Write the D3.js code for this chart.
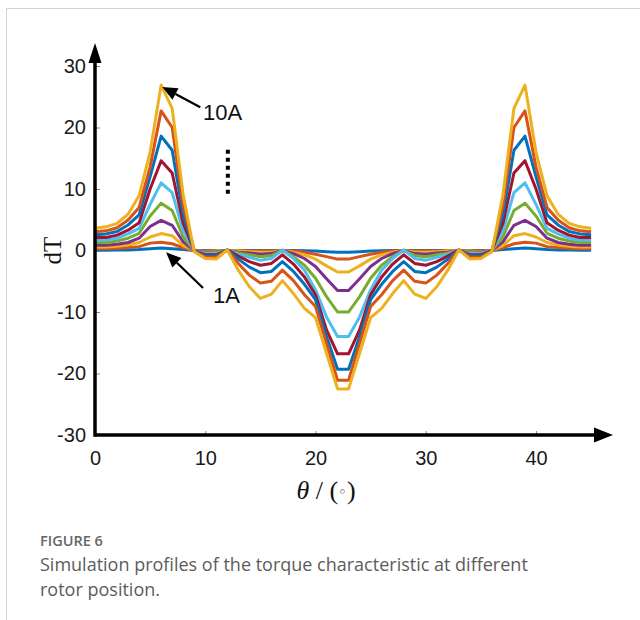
<!DOCTYPE html>
<html>
<head>
<meta charset="utf-8">
<script src="https://cdn.jsdelivr.net/npm/d3@7"></script>
<style>
  html, body { margin: 0; padding: 0; background: #fff; }
  svg { display: block; }
</style>
</head>
<body>
<svg id="chart" width="640" height="620"></svg>
<script>
// Rotor position (degrees)
const angles = [0, 1, 2, 3, 4, 5, 6, 7, 8, 9, 10, 11, 12, 13, 14, 15, 16, 17, 18, 19, 20, 21, 22,
                23, 24, 25, 26, 27, 28, 29, 30, 31, 32, 33, 34, 35, 36, 37, 38, 39, 40, 41, 42, 43, 44, 45];

// Torque difference dT per phase current, 1A .. 10A
const dT1A  = [0.05, 0.05, 0.07, 0.1, 0.15, 0.3, 0.4, 0.3, 0.15, 0, 0, 0, 0, 0, 0, 0, 0, 0, 0, -0.05, -0.1, -0.2, -0.3,
               -0.3, -0.2, -0.1, -0.05, 0, 0, 0, 0, 0, 0, 0, 0, 0, 0, 0.15, 0.3, 0.4, 0.3, 0.15, 0.1, 0.07, 0.05, 0.05];
const dT2A  = [0.28, 0.28, 0.36, 0.47, 0.63, 1.2, 1.35, 1.1, 0.45, 0, -0.1, -0.05, 0, 0, -0.1, -0.1, -0.1, 0, -0.1, -0.3, -0.6, -1.0, -1.4,
               -1.4, -1.0, -0.6, -0.3, -0.1, 0, -0.1, -0.1, -0.1, 0, 0, -0.05, -0.1, 0, 0.45, 1.1, 1.35, 1.2, 0.63, 0.47, 0.36, 0.28, 0.28];
const dT3A  = [0.55, 0.57, 0.7, 0.9, 1.3, 2.2, 2.75, 2.4, 0.8, 0, -0.2, -0.1, 0, -0.1, -0.2, -0.3, -0.3, 0, -0.3, -0.7, -1.4, -2.5, -3.5,
               -3.5, -2.5, -1.4, -0.7, -0.3, 0, -0.3, -0.3, -0.2, -0.1, 0, -0.1, -0.2, 0, 0.8, 2.4, 2.75, 2.2, 1.3, 0.9, 0.7, 0.57, 0.55];
const dT4A  = [0.85, 0.85, 1.0, 1.3, 2.0, 3.9, 4.9, 4.1, 1.4, 0, -0.3, -0.2, 0, -0.3, -0.4, -0.6, -0.5, 0, -0.5, -1.3, -2.6, -4.6, -6.5,
               -6.5, -4.6, -2.6, -1.3, -0.5, 0, -0.5, -0.6, -0.4, -0.3, 0, -0.2, -0.3, 0, 1.4, 4.1, 4.9, 3.9, 2.0, 1.3, 1.0, 0.85, 0.85];
const dT5A  = [1.3, 1.3, 1.55, 2.0, 2.8, 5.6, 7.7, 6.5, 2.2, 0, -0.4, -0.3, 0, -0.4, -0.7, -1.0, -0.8, 0, -1.0, -2.4, -4.5, -7.5, -10.0,
               -10.0, -7.5, -4.5, -2.4, -1.0, 0, -0.8, -1.0, -0.7, -0.4, 0, -0.3, -0.4, 0, 2.2, 6.5, 7.7, 5.6, 2.8, 2.0, 1.55, 1.3, 1.3];
const dT6A  = [1.7, 1.7, 2.0, 2.7, 3.6, 7.5, 11.0, 9.4, 3.2, 0, -0.5, -0.5, 0.05, -0.6, -1.1, -1.6, -1.3, 0.1, -1.3, -3.2, -6.4, -10.8, -14.0,
               -14.0, -10.8, -6.4, -3.2, -1.3, 0.1, -1.3, -1.6, -1.1, -0.6, 0.05, -0.5, -0.5, 0, 3.2, 9.4, 11.0, 7.5, 3.6, 2.7, 2.0, 1.7, 1.7];
const dT7A  = [2.1, 2.1, 2.5, 3.3, 4.5, 10.0, 14.6, 12.6, 4.4, 0, -0.7, -0.7, 0.1, -0.9, -1.8, -2.4, -2.1, -0.7, -2.2, -4.3, -7.2, -12.9, -16.8,
               -16.8, -12.9, -7.2, -4.3, -2.2, -0.7, -2.1, -2.4, -1.8, -0.9, 0.1, -0.7, -0.7, 0, 4.4, 12.6, 14.6, 10.0, 4.5, 3.3, 2.5, 2.1, 2.1];
const dT8A  = [2.55, 2.7, 3.1, 4.15, 5.8, 12.0, 18.6, 16.3, 5.8, 0, -0.9, -0.9, 0.1, -1.4, -2.7, -3.6, -3.4, -1.8, -3.4, -5.5, -8.0, -14.0, -19.3,
               -19.3, -14.0, -8.0, -5.5, -3.4, -1.8, -3.4, -3.6, -2.7, -1.4, 0.1, -0.9, -0.9, 0, 5.8, 16.3, 18.6, 12.0, 5.8, 4.15, 3.1, 2.7, 2.55];
const dT9A  = [3.05, 3.2, 3.7, 4.95, 7.0, 13.6, 22.7, 20.0, 7.3, -0.1, -1.1, -1.1, 0.1, -2.1, -4.0, -5.3, -5.0, -3.2, -4.9, -7.2, -9.1, -15.1, -21.1,
               -21.1, -15.1, -9.1, -7.2, -4.9, -3.2, -5.0, -5.3, -4.0, -2.1, 0.1, -1.1, -1.1, -0.1, 7.3, 20.0, 22.7, 13.6, 7.0, 4.95, 3.7, 3.2, 3.05];
const dT10A = [3.6, 3.85, 4.4, 5.9, 8.9, 16.0, 26.9, 23.1, 9.0, -0.2, -1.3, -1.4, 0.1, -3.2, -5.9, -7.8, -7.1, -4.9, -7.0, -9.4, -10.9, -16.7, -22.5,
               -22.5, -16.7, -10.9, -9.4, -7.0, -4.9, -7.1, -7.8, -5.9, -3.2, 0.1, -1.4, -1.3, -0.2, 9.0, 23.1, 26.9, 16.0, 8.9, 5.9, 4.4, 3.85, 3.6];

const seriesNames = ["1A", "2A", "3A", "4A", "5A", "6A", "7A", "8A", "9A", "10A"];
const seriesValues = [dT1A, dT2A, dT3A, dT4A, dT5A, dT6A, dT7A, dT8A, dT9A, dT10A];
const seriesColors = ["#0072BD", "#D95319", "#EDB120", "#7E2F8E", "#77AC30",
                      "#4DBEEE", "#A2142F", "#0072BD", "#D95319", "#EDB120"];

const xTicks = [0, 10, 20, 30, 40];
const yTicks = [-30, -20, -10, 0, 10, 20, 30];

const captionLabel = "FIGURE 6";
const captionLines = ["Simulation profiles of the torque characteristic at different",
                      "rotor position."];

const svg = d3.select("#chart");

// page frame
svg.append("path")
  .attr("d", "M6.5,620 V8.5 H640")
  .attr("fill", "none")
  .attr("stroke", "#d3d3d3")
  .attr("stroke-width", 1);

const x = d3.scaleLinear().domain([0, 40]).range([95, 536]);
const y = d3.scaleLinear().domain([-30, 30]).range([435, 66]);

const axisFont = "'Liberation Sans', Arial, sans-serif";
const plainNumber = d => String(d);   // hyphen-minus, as in the printed figure

// x axis ticks and labels
const gx = svg.append("g")
  .attr("transform", `translate(0,${y(-30)})`)
  .call(d3.axisBottom(x).tickValues(xTicks).tickFormat(plainNumber).tickSize(-4).tickPadding(16));
gx.select(".domain").remove();
gx.selectAll(".tick line").attr("stroke", "#888");
gx.selectAll(".tick text")
  .attr("font-family", axisFont).attr("font-size", 20).attr("fill", "#1a1a1a");

// y axis ticks and labels
const gy = svg.append("g")
  .attr("transform", `translate(${x(0)},0)`)
  .call(d3.axisLeft(y).tickValues(yTicks).tickFormat(plainNumber).tickSize(-5).tickPadding(9));
gy.select(".domain").remove();
gy.selectAll(".tick line").attr("stroke", "#888");
gy.selectAll(".tick text")
  .attr("font-family", axisFont).attr("font-size", 20).attr("fill", "#1a1a1a");

// torque curves
const line = d3.line()
  .x((d, i) => x(angles[i]))
  .y(d => y(d));

svg.append("g")
  .selectAll("path")
  .data(seriesValues)
  .join("path")
  .attr("d", d => line(d))
  .attr("fill", "none")
  .attr("stroke", (d, i) => seriesColors[i])
  .attr("stroke-width", 3)
  .attr("stroke-linejoin", "round");

// heavy axis lines with arrow heads
const ax0 = x(0), ay0 = y(-30);
const xEnd = x(40) + 77, yEnd = y(30) - 23;
svg.append("line")
  .attr("x1", ax0).attr("y1", ay0).attr("x2", xEnd - 14).attr("y2", ay0)
  .attr("stroke", "#000").attr("stroke-width", 3.5);
svg.append("path")
  .attr("d", `M${xEnd},${ay0} L${xEnd - 19},${ay0 - 7.5} L${xEnd - 19},${ay0 + 7.5} Z`)
  .attr("fill", "#000");
svg.append("line")
  .attr("x1", ax0).attr("y1", ay0 + 1.75).attr("x2", ax0).attr("y2", yEnd + 14)
  .attr("stroke", "#000").attr("stroke-width", 3.5);
svg.append("path")
  .attr("d", `M${ax0},${yEnd} L${ax0 - 6.5},${yEnd + 20} L${ax0 + 6.5},${yEnd + 20} Z`)
  .attr("fill", "#000");

// axis titles
svg.append("text")
  .attr("transform", `translate(61,${y(0)}) rotate(-90)`)
  .attr("text-anchor", "middle")
  .attr("font-family", "'Liberation Serif', 'Times New Roman', serif")
  .attr("font-size", 25)
  .attr("fill", "#111")
  .text("dT");

const xTitle = svg.append("text")
  .attr("x", 326).attr("y", 499)
  .attr("text-anchor", "middle")
  .attr("font-family", "'Liberation Serif', 'DejaVu Serif', serif")
  .attr("font-size", 26)
  .attr("fill", "#111");
xTitle.append("tspan").attr("font-style", "italic").text("θ");
xTitle.append("tspan").text(" / (");
xTitle.append("tspan").attr("font-family", "'DejaVu Serif', serif").attr("font-size", 15).attr("dy", -2).text("◦");
xTitle.append("tspan").attr("dy", 2).text(")");

// current annotations
function arrow(x1, y1, x2, y2) {
  const a = Math.atan2(y2 - y1, x2 - x1);
  const len = 15, hw = 6.5;
  const bx = x2 - len * Math.cos(a), by = y2 - len * Math.sin(a);
  svg.append("line")
    .attr("x1", x1).attr("y1", y1).attr("x2", bx).attr("y2", by)
    .attr("stroke", "#000").attr("stroke-width", 2.2);
  svg.append("path")
    .attr("d", `M${x2},${y2} L${bx + hw * Math.sin(a)},${by - hw * Math.cos(a)} L${bx - hw * Math.sin(a)},${by + hw * Math.cos(a)} Z`)
    .attr("fill", "#000");
}

arrow(x(9.55), y(23.3), x(6.1), y(26.6));
svg.append("text")
  .attr("x", x(9.8)).attr("y", y(21.3))
  .attr("font-family", axisFont).attr("font-size", 22).attr("fill", "#111")
  .text(seriesNames[9]);

arrow(x(9.8), y(-6.1), x(6.45), y(-0.3));
svg.append("text")
  .attr("x", x(10.7)).attr("y", y(-8.5))
  .attr("font-family", axisFont).attr("font-size", 22).attr("fill", "#111")
  .text(seriesNames[0]);

// vertical ellipsis between the labelled curves
svg.append("line")
  .attr("x1", x(12.05)).attr("x2", x(12.05))
  .attr("y1", y(16.4)).attr("y2", y(8.6))
  .attr("stroke", "#000").attr("stroke-width", 4)
  .attr("stroke-dasharray", "4,4");

// caption
svg.append("text")
  .attr("x", 40).attr("y", 546)
  .attr("font-family", "'Open Sans', sans-serif")
  .attr("font-size", 14.5).attr("font-weight", 600)
  .attr("fill", "#666")
  .text(captionLabel);
svg.append("g").selectAll("text")
  .data(captionLines)
  .join("text")
  .attr("x", 40).attr("y", (d, i) => 571 + i * 25)
  .attr("font-family", "'Open Sans', sans-serif")
  .attr("font-size", 18)
  .attr("fill", "#5c5c5c")
  .text(d => d);
</script>
</body>
</html>
